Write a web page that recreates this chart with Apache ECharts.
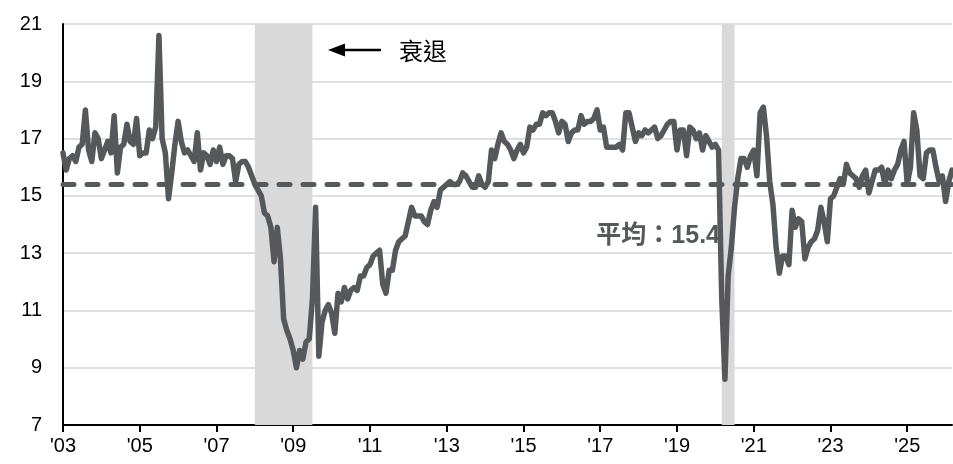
<!DOCTYPE html>
<html>
<head>
<meta charset="utf-8">
<script src="https://cdn.jsdelivr.net/npm/echarts@6/dist/echarts.min.js"></script>
<style>
  html, body { margin: 0; padding: 0; background: #fff; }
  #main { width: 953px; height: 464px; }
</style>
</head>
<body>
<div id="main"></div>
<script>
// monthly values, Jan..Dec
var s2003 = [16.5, 15.9, 16.3, 16.4, 16.2, 16.7, 16.8, 18.0, 16.6, 16.2, 17.2, 17.0];
var s2004 = [16.3, 16.6, 16.9, 16.5, 17.8, 15.8, 16.7, 16.8, 17.5, 16.9, 16.8, 17.7];
var s2005 = [16.4, 16.5, 16.5, 17.3, 17.0, 17.4, 20.6, 17.0, 16.5, 14.9, 15.8, 16.8];
var s2006 = [17.6, 16.9, 16.5, 16.6, 16.4, 16.2, 17.2, 15.9, 16.5, 16.4, 16.1, 16.6];
var s2007 = [16.2, 16.7, 16.1, 16.4, 16.4, 16.3, 15.5, 16.1, 16.2, 16.2, 16.0, 15.7];
var s2008 = [15.4, 15.2, 15.0, 14.4, 14.3, 13.9, 12.7, 13.9, 12.8, 10.7, 10.3, 10.0];
var s2009 = [9.6, 9.0, 9.6, 9.3, 9.9, 10.0, 11.4, 14.6, 9.4, 10.6, 11.0, 11.2];
var s2010 = [10.9, 10.2, 11.6, 11.3, 11.8, 11.4, 11.7, 11.8, 11.7, 12.2, 12.2, 12.5];
var s2011 = [12.6, 12.9, 13.0, 13.1, 11.9, 11.6, 12.4, 12.4, 13.1, 13.4, 13.5, 13.6];
var s2012 = [14.1, 14.6, 14.3, 14.3, 14.3, 14.1, 14.0, 14.5, 14.8, 14.6, 15.2, 15.3];
var s2013 = [15.4, 15.5, 15.4, 15.4, 15.5, 15.8, 15.7, 15.5, 15.3, 15.3, 15.7, 15.4];
var s2014 = [15.3, 15.5, 16.6, 16.3, 16.8, 17.2, 16.9, 16.8, 16.6, 16.3, 16.6, 16.8];
var s2015 = [16.5, 16.7, 17.4, 17.3, 17.5, 17.5, 17.9, 17.8, 17.9, 17.9, 17.6, 17.2];
var s2016 = [17.6, 17.5, 16.9, 17.2, 17.3, 17.3, 17.8, 17.5, 17.6, 17.6, 17.7, 18.0];
var s2017 = [17.3, 17.4, 16.7, 16.7, 16.7, 16.7, 16.8, 16.6, 17.9, 17.9, 17.4, 16.9];
var s2018 = [17.2, 17.1, 17.3, 17.2, 17.3, 17.4, 17.0, 17.1, 17.3, 17.5, 17.6, 17.6];
var s2019 = [16.6, 17.3, 17.3, 16.4, 17.4, 17.3, 17.0, 17.2, 16.6, 17.1, 16.9, 16.7];
var s2020 = [16.8, 16.6, 11.4, 8.6, 12.2, 13.2, 14.6, 15.6, 16.3, 16.3, 16.0, 16.4];
var s2021 = [16.6, 15.7, 17.9, 18.1, 17.1, 15.5, 14.7, 13.2, 12.3, 12.9, 12.9, 12.6];
var s2022 = [14.5, 13.9, 14.2, 14.1, 12.8, 13.2, 13.4, 13.5, 13.8, 14.6, 14.1, 13.4];
var s2023 = [14.9, 15.0, 15.3, 15.6, 15.4, 16.1, 15.8, 15.7, 15.6, 15.3, 15.7, 15.9];
var s2024 = [15.1, 15.5, 15.9, 15.9, 16.0, 15.4, 15.9, 15.6, 15.9, 16.1, 16.6, 16.9];
var s2025 = [15.4, 16.0, 17.9, 17.3, 15.7, 15.6, 16.5, 16.6, 16.6, 16.0, 15.5, 15.7];
var s2026 = [14.8, 15.5, 15.9];

var recessions = [['2008-01', '2009-07'], ['2020-03', '2020-07']];
var average = 15.4;
var avgLabel = '平均：15.4';
var recessionLabel = '衰退';

var byYear = {
  2003: s2003, 2004: s2004, 2005: s2005, 2006: s2006, 2007: s2007, 2008: s2008,
  2009: s2009, 2010: s2010, 2011: s2011, 2012: s2012, 2013: s2013, 2014: s2014,
  2015: s2015, 2016: s2016, 2017: s2017, 2018: s2018, 2019: s2019, 2020: s2020,
  2021: s2021, 2022: s2022, 2023: s2023, 2024: s2024, 2025: s2025, 2026: s2026
};

var months = [];
var values = [];
for (var y = 2003; y <= 2026; y++) {
  byYear[y].forEach(function (v, i) {
    months.push(y + '-' + (i < 9 ? '0' : '') + (i + 1));
    values.push(v);
  });
}

// label / tick every Jan of odd years
function isTick(index, value) {
  return value.slice(5) === '01' && (+value.slice(0, 4)) % 2 === 1;
}

var lineColor = '#55595c';
var myChart = echarts.init(document.getElementById('main'));
var option = {
  animation: false,
  grid: { left: 63, right: 1, top: 24, bottom: 39 },
  xAxis: {
    type: 'category',
    data: months,
    boundaryGap: false,
    axisLine: { lineStyle: { color: '#000', width: 2 } },
    axisTick: { show: true, length: 7, interval: isTick, lineStyle: { color: '#000', width: 2 } },
    axisLabel: {
      interval: isTick,
      formatter: function (v) { return "'" + v.slice(2, 4); },
      color: '#000', fontSize: 20, margin: 11, fontFamily: 'Liberation Sans'
    },
    splitLine: { show: false }
  },
  yAxis: {
    type: 'value',
    min: 7,
    max: 21,
    interval: 2,
    axisLine: { show: true, lineStyle: { color: '#000', width: 2 } },
    axisTick: { show: false },
    axisLabel: { color: '#000', fontSize: 20, margin: 21, fontFamily: 'Liberation Sans' },
    splitLine: { lineStyle: { color: '#d6d6d6', width: 1.5 } }
  },
  series: [
    {
      type: 'line',
      data: values,
      symbol: 'none',
      lineStyle: { color: lineColor, width: 5.5, join: 'round', cap: 'round' },
      markArea: {
        silent: true,
        itemStyle: { color: '#d9d9d9' },
        data: recessions.map(function (r) { return [{ xAxis: r[0] }, { xAxis: r[1] }]; })
      },
      markLine: {
        silent: true,
        symbol: 'none',
        label: { show: false },
        lineStyle: { color: lineColor, width: 5, type: [11, 13], cap: 'round' },
        data: [{ yAxis: average }]
      }
    }
  ],
  graphic: [
    { type: 'line', shape: { x1: 338, y1: 50, x2: 381, y2: 50 }, style: { stroke: '#000', lineWidth: 2.5 } },
    { type: 'polygon', shape: { points: [[328, 50], [345, 43.5], [345, 56.5]] }, style: { fill: '#000' } },
    {
      type: 'text', x: 399, y: 51,
      style: { text: recessionLabel, fontSize: 24, fill: '#000', fontFamily: 'Noto Sans CJK TC', verticalAlign: 'middle' }
    },
    {
      type: 'text', x: 720, y: 236,
      style: {
        text: avgLabel, fontSize: 25, fontWeight: 'bold', fill: lineColor,
        fontFamily: 'Liberation Sans, Noto Sans CJK TC', align: 'right', verticalAlign: 'middle'
      }
    }
  ]
};
option && myChart.setOption(option);
</script>
</body>
</html>
